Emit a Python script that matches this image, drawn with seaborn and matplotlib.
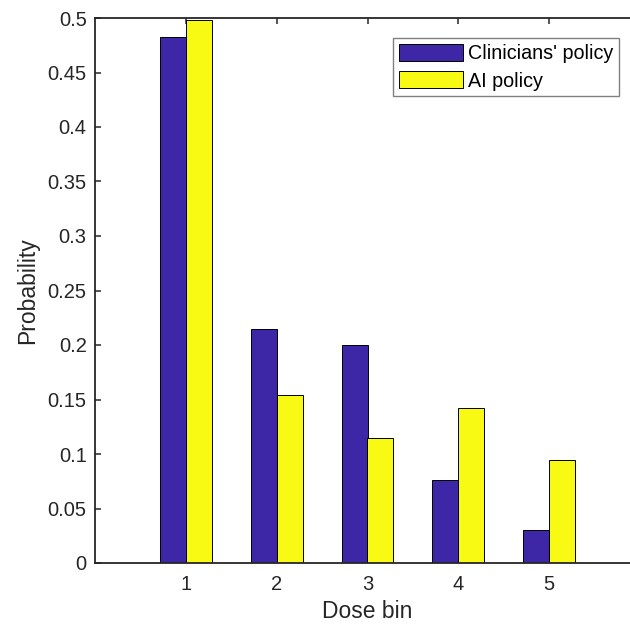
import matplotlib
matplotlib.use("Agg")
import matplotlib.pyplot as plt
import seaborn as sns
import pandas as pd

# Dose-bin probabilities for the two policies
dose_bins = ["1", "2", "3", "4", "5"]
clinicians = [0.4823, 0.2147, 0.2000, 0.0765, 0.0300]
ai_policy = [0.4980, 0.1544, 0.1144, 0.1419, 0.0942]
series_names = ["Clinicians' policy", "AI policy"]
colors = ["#3D27A7", "#F8FA14"]

df = pd.DataFrame({
    "Dose bin": dose_bins * 2,
    "Probability": clinicians + ai_policy,
    "Policy": [series_names[0]] * len(dose_bins) + [series_names[1]] * len(dose_bins),
})

sns.set_theme(style="white")
plt.rcParams["font.family"] = ["Liberation Sans", "DejaVu Sans"]
text_color = "#262626"

fig = plt.figure(figsize=(6.3, 6.27), dpi=100)
ax = fig.add_axes([95 / 630, 64 / 627, 545 / 630, 545 / 627])

sns.barplot(data=df, x="Dose bin", y="Probability", hue="Policy",
            order=dose_bins, hue_order=series_names, palette=colors,
            width=0.572, edgecolor="black", linewidth=0.7, saturation=1,
            ax=ax)

ax.set_xlim(-1, 5)
ax.set_ylim(0, 0.5)
ax.set_yticks([i * 0.05 for i in range(11)])
ax.set_yticklabels(["0", "0.05", "0.1", "0.15", "0.2", "0.25", "0.3",
                    "0.35", "0.4", "0.45", "0.5"])

for side in ["left", "right", "top", "bottom"]:
    ax.spines[side].set_visible(True)
    ax.spines[side].set_color(text_color)
    ax.spines[side].set_linewidth(1.3)

ax.tick_params(axis="both", which="major", direction="in", length=4.5,
               width=1.1, color=text_color, labelcolor=text_color,
               labelsize=14.5, top=True, right=True, bottom=True, left=True)
ax.tick_params(axis="x", pad=9)
ax.tick_params(axis="y", pad=6)

ax.set_xlabel("Dose bin", fontsize=16.5, color=text_color, labelpad=4)
ax.set_ylabel("Probability", fontsize=16.5, color=text_color, labelpad=6)

leg = ax.legend(loc="upper right", bbox_to_anchor=(0.9615, 0.963),
                borderaxespad=0, fontsize=14.2, frameon=True, fancybox=False,
                framealpha=1, edgecolor="#808080", handlelength=3.25,
                handleheight=0.97, handletextpad=0.25, labelspacing=0.39,
                borderpad=0.3)
leg.get_frame().set_linewidth(1.0)
for t in leg.get_texts():
    t.set_color("black")

fig.savefig("out.png", dpi=100)
